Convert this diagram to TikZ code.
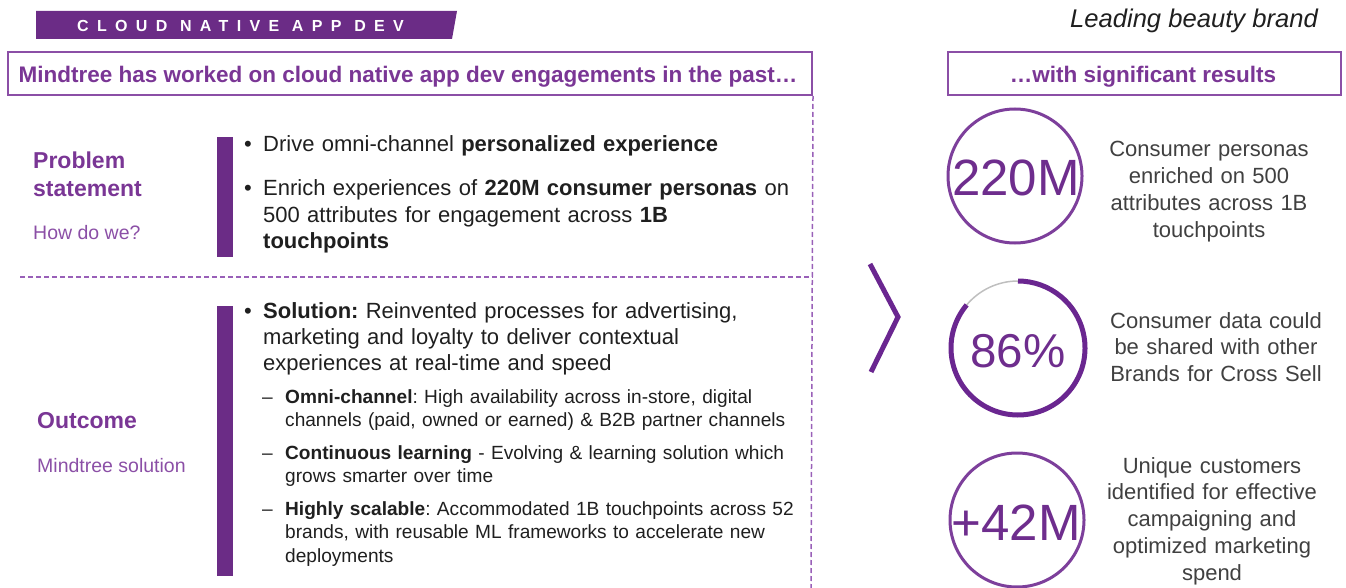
\documentclass[tikz,border=0pt]{standalone}
\usepackage{fontspec}
\setmainfont{Liberation Sans}
\newfontfamily\bannerfont[LetterSpace=52]{Liberation Sans}
\frenchspacing
\definecolor{bannerc}{HTML}{6B2C86}
\definecolor{headc}{HTML}{7A3695}
\definecolor{boxc}{HTML}{8B4FA6}
\definecolor{ringc}{HTML}{7D3F9B}
\definecolor{ringd}{HTML}{6A2690}
\definecolor{numc}{HTML}{6E2D8D}
\definecolor{dashc}{HTML}{9960B8}
\definecolor{bodyc}{HTML}{1F1F1F}
\definecolor{greyc}{HTML}{404040}
\definecolor{lightc}{HTML}{8B4FA6}
\tikzset{
  hbox/.style={draw=boxc, line width=2pt, inner sep=0pt},
  headtxt/.style={text=headc, font=\fontsize{22.5}{27}\selectfont\bfseries, inner sep=0pt, anchor=base},
  dashline/.style={draw=dashc, line width=1.5pt, dash pattern=on 5pt off 3pt},
  bar/.style={fill=bannerc, draw=none, inner sep=0pt, minimum width=16pt, anchor=north west},
  body/.style={text=bodyc, font=\fontsize{22}{26.3}\selectfont, inner sep=0pt, anchor=base west, align=left, text width=560pt},
  subtxt/.style={text=bodyc, font=\fontsize{19.1}{23.5}\selectfont, inner sep=0pt, anchor=base west, align=left, text width=540pt},
  bul/.style={text=bodyc, font=\fontsize{22}{26}\selectfont, inner sep=0pt, anchor=base west},
  sidehead/.style={text=headc, font=\fontsize{23}{28}\selectfont\bfseries, inner sep=0pt, anchor=base west, align=left, text width=190pt},
  sidesub/.style={text=lightc, font=\fontsize{19.5}{24}\selectfont, inner sep=0pt, anchor=base west},
  res/.style={text=greyc, font=\fontsize{22}{26.8}\selectfont, inner sep=0pt, anchor=base, align=center, text width=240pt},
  ring/.style={circle, draw=ringc, line width=3pt, minimum size=134pt, inner sep=0pt},
  num/.style={text=numc, inner sep=0pt, anchor=base},
}
\begin{document}
\begin{tikzpicture}[x=1pt,y=-1pt]
\useasboundingbox (0,0) rectangle (1346,588);

% banner
\fill[bannerc] (36,11) -- (457,11) -- (452,39) -- (36,39) -- cycle;
\node[text=white, font=\bannerfont\bfseries\fontsize{16}{18}\selectfont, inner sep=0pt, anchor=base west] (bantxt) at (77,32) {CLOUD NATIVE APP DEV};

% header boxes
\node[hbox, minimum width=804pt, minimum height=43pt, anchor=north west] (hl) at (7,51) {};
\node[headtxt] (hltxt) at (408,83) {Mindtree has worked on cloud native app dev engagements in the past…};
\node[hbox, minimum width=393pt, minimum height=43pt, anchor=north west] (hr) at (947,51) {};
\node[headtxt] (hrtxt) at (1143,83) {…with significant results};
\node[text=bodyc, font=\fontsize{25.6}{30}\selectfont\itshape, inner sep=0pt, anchor=base east] (brand) at (1318,28) {Leading beauty brand};

% dashed separators
\coordinate (hsep) at (20,277);
\coordinate (vbot) at (811,588);
\draw[dashline] (hl.south east) -- (vbot);
\draw[dashline] (hsep) -- (hsep -| hl.east);

% problem statement
\node[sidehead] (ps) at (33,169) {Problem\\statement};
\node[sidesub] (hdw) at (33,239) {How do we?};
\node[bar, minimum height=120pt] (bar1) at (217,137) {};
\node[bul] (b1) at (244,152) {•};
\node[body] (t1) at (263,152) {Drive omni-channel \textbf{personalized experience}};
\node[bul] (b2) at (244,196) {•};
\node[body] (t2) at (263,196) {Enrich experiences of \textbf{220M consumer personas} on\\500 attributes for engagement across \textbf{1B}\\\textbf{touchpoints}};

% outcome
\node[sidehead] (oc) at (37,428) {Outcome};
\node[sidesub] (ms) at (37,472) {Mindtree solution};
\node[bar, minimum height=270pt] (bar2) at (217,306) {};
\node[bul] (b3) at (244,318) {•};
\node[body] (t3) at (263,318) {\textbf{Solution:} Reinvented processes for advertising,\\marketing and loyalty to deliver contextual\\experiences at real-time and speed};
\node[bul, font=\fontsize{19.1}{23}\selectfont] (d1) at (262,403) {–};
\node[subtxt] (s1) at (285,403) {\textbf{Omni-channel}: High availability across in-store, digital\\channels (paid, owned or earned) \& B2B partner channels};
\node[bul, font=\fontsize{19.1}{23}\selectfont] (d2) at (262,459) {–};
\node[subtxt] (s2) at (285,459) {\textbf{Continuous learning} - Evolving \& learning solution which\\grows smarter over time};
\node[bul, font=\fontsize{19.1}{23}\selectfont] (d3) at (262,515) {–};
\node[subtxt] (s3) at (285,515) {\textbf{Highly scalable}: Accommodated 1B touchpoints across 52\\brands, with reusable ML frameworks to accelerate new\\deployments};

% chevron
\draw[draw=ringd, line width=5pt] (870,264) -- (898,317) -- (871,372);

% results
\node[ring] (c1) at (1015,176) {};
\node[num, font=\fontsize{51}{56}\selectfont] (n1) at (1016,196) {220M};
\node[res] (r1) at (1209,157) {Consumer personas\\enriched on 500\\attributes across 1B\\touchpoints};

\node[circle, minimum size=134pt, inner sep=0pt] (c2) at (1018,348) {};
\draw[black!25, line width=1.5pt] (c2.center) ++(90:67pt) arc[start angle=90, end angle=140, radius=67pt];
\draw[ringd, line width=5pt] (c2.center) ++(140:67pt) arc[start angle=140, end angle=450, radius=67pt];
\node[num, font=\fontsize{47.5}{52}\selectfont] (n2) at (1018,367) {86\%};
\node[res] (r2) at (1216,328) {Consumer data could\\be shared with other\\Brands for Cross Sell};

\node[ring] (c3) at (1017,520) {};
\node[num, font=\fontsize{51}{56}\selectfont] (n3) at (1016,540) {+42M};
\node[res] (r3) at (1212,473) {Unique customers\\identified for effective\\campaigning and\\optimized marketing\\spend};
\end{tikzpicture}
\end{document}
